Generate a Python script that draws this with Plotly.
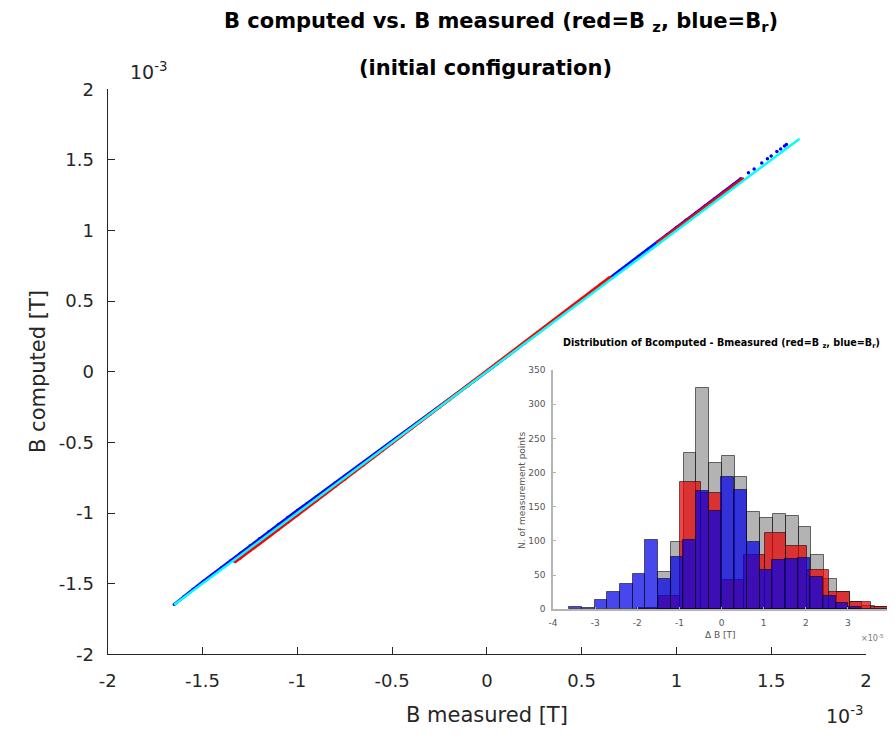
import plotly.graph_objects as go

# the page body has an 8 px margin, so the figure starts at (8, 8) in the window;
# keep the page from overflowing vertically (no scrollbar)
OFF = 8
W, H = 895 - OFF, 736 - 2 * OFF

# ---------------- main scatter data (units of 1e-3 T) ----------------
br_measured = [-1.65, -1.60, -1.55, -1.50, -1.45, -1.40, -1.35, -1.30, -1.25, -1.20, -1.15, -1.10,
               -1.05, -1.00, -0.95, -0.90, -0.85, -0.80, -0.75, -0.70, -0.60, -0.50, -0.40, -0.30,
               -0.20, -0.10, 0.00, 0.10, 0.20, 0.30, 0.40, 0.50, 0.60, 0.70, 0.80, 0.85, 0.90,
               0.95, 1.00, 1.05, 1.10, 1.15, 1.20, 1.25, 1.30, 1.34]
br_computed = [-1.648, -1.592, -1.540, -1.488, -1.437, -1.386, -1.334, -1.283, -1.232, -1.180, -1.130, -1.080,
               -1.030, -0.982, -0.933, -0.884, -0.836, -0.787, -0.738, -0.690, -0.592, -0.493, -0.394, -0.296,
               -0.198, -0.099, 0.002, 0.103, 0.204, 0.306, 0.408, 0.510, 0.613, 0.716, 0.818, 0.869, 0.920,
               0.972, 1.023, 1.074, 1.125, 1.176, 1.226, 1.276, 1.327, 1.368]
br_tail_measured = [1.38, 1.41, 1.45, 1.48, 1.50, 1.53, 1.55, 1.57, 1.58]
br_tail_computed = [1.409, 1.436, 1.478, 1.508, 1.528, 1.560, 1.578, 1.598, 1.610]

bz_measured = [-1.33, -1.30, -1.25, -1.20, -1.15, -1.10, -1.05, -1.00, -0.95, -0.90, -0.85, -0.80,
               -0.75, -0.70, -0.65, -0.60, -0.55, -0.50, -0.45, -0.40, -0.35, -0.30, -0.25, -0.20,
               -0.15, -0.10, -0.05, 0.00, 0.05, 0.10, 0.15, 0.20, 0.25, 0.30, 0.35, 0.40, 0.45,
               0.50, 0.55, 0.60, 0.65, None, 0.90, 0.95, 1.00, 1.05, 1.10, 1.15, 1.20, 1.25, 1.30, 1.35]
bz_computed = [-1.345, -1.318, -1.266, -1.217, -1.166, -1.117, -1.066, -1.016, -0.964, -0.913, -0.863, -0.812,
               -0.761, -0.710, -0.659, -0.608, -0.557, -0.506, -0.455, -0.404, -0.353, -0.302, -0.251, -0.200,
               -0.149, -0.099, -0.048, 0.003, 0.054, 0.105, 0.157, 0.208, 0.260, 0.312, 0.364, 0.415, 0.466,
               0.518, 0.569, 0.620, 0.668, None, 0.912, 0.962, 1.013, 1.063, 1.114, 1.164, 1.215, 1.266, 1.316, 1.366]

ref_line = [-1.65, 1.65]

main_ticks = [-2, -1.5, -1, -0.5, 0, 0.5, 1, 1.5, 2]
main_ticktext = ["-2", "-1.5", "-1", "-0.5", "0", "0.5", "1", "1.5", "2"]

# ---------------- inset histogram data (Delta B in units of 1e-5 T) ----------------
gray_first_edge, gray_bin_width = -1.505, 0.303
gray_counts = [55, 98, 228, 323, 214, 224, 193, 142, 133, 140, 136, 121, 80, 44, 26, 11, 5, 3]
red_first_edge, red_bin_width = -2.0, 0.505
red_counts = [2, 19, 186, 170, 43, 80, 112, 93, 58, 26, 11, 4]
blue_first_edge, blue_bin_width = -3.613, 0.301
blue_counts = [3, 2, 13, 26, 37, 52, 101, 45, 77, 102, 173, 144, 194, 174, 98, 58, 72, 74, 75, 47, 19, 9, 4]

inset_xticks = [-4, -3, -2, -1, 0, 1, 2, 3, 4]
inset_xticktext = ["-4", "-3", "-2", "-1", "0", "1", "2", "3", "4"]
inset_yticks = [0, 50, 100, 150, 200, 250, 300, 350]


def centers(first, width, counts):
    return [first + (k + 0.5) * width for k in range(len(counts))]


FONT = "DejaVu Sans, Liberation Sans, Arial"
AX = "#262626"

fig = go.Figure()

# main scatter
fig.add_trace(go.Scatter(x=br_measured, y=br_computed, mode="lines+markers",
                         line=dict(color="#0000ff", width=3), marker=dict(color="#0000ff", size=3),
                         showlegend=False, xaxis="x", yaxis="y"))
fig.add_trace(go.Scatter(x=br_tail_measured, y=br_tail_computed, mode="markers",
                         marker=dict(color="#0000ff", size=3.5), showlegend=False, xaxis="x", yaxis="y"))
fig.add_trace(go.Scatter(x=bz_measured, y=bz_computed, mode="lines+markers", connectgaps=False,
                         line=dict(color="#ff0000", width=3.5), marker=dict(color="#ff0000", size=3),
                         showlegend=False, xaxis="x", yaxis="y"))
fig.add_trace(go.Scatter(x=ref_line, y=ref_line, mode="lines",
                         line=dict(color="#00ffff", width=2.5), showlegend=False, xaxis="x", yaxis="y"))

# inset histogram
edge = dict(color="rgba(0,0,0,0.55)", width=1)
fig.add_trace(go.Bar(x=centers(gray_first_edge, gray_bin_width, gray_counts), y=gray_counts,
                     width=gray_bin_width, marker=dict(color="rgba(128,128,128,0.6)", line=edge),
                     showlegend=False, xaxis="x2", yaxis="y2"))
fig.add_trace(go.Bar(x=centers(red_first_edge, red_bin_width, red_counts), y=red_counts,
                     width=red_bin_width, marker=dict(color="rgba(230,0,0,0.72)", line=edge),
                     showlegend=False, xaxis="x2", yaxis="y2"))
fig.add_trace(go.Bar(x=centers(blue_first_edge, blue_bin_width, blue_counts), y=blue_counts,
                     width=blue_bin_width, marker=dict(color="rgba(0,0,230,0.72)", line=edge),
                     showlegend=False, xaxis="x2", yaxis="y2"))


def px_x(p):
    return (p - OFF) / W


def px_y(p):
    return (OFF + H - p) / H


main_axis = dict(showline=True, linecolor=AX, linewidth=1.3, ticks="inside", ticklen=7,
                 tickcolor=AX, tickwidth=1.3, showgrid=False, zeroline=False, mirror=False,
                 automargin=False, tickfont=dict(family=FONT, size=18, color=AX))
inset_axis = dict(showline=True, linecolor="#b4b4b4", linewidth=1.5, ticks="inside", ticklen=3,
                  tickcolor="#b4b4b4", showgrid=False, zeroline=False, mirror=False,
                  automargin=False, ticklabeloverflow="allow",
                  tickfont=dict(family=FONT, size=9, color="#555555"))

fig.update_layout(
    width=W, height=H, autosize=False,
    margin=dict(l=0, r=0, t=0, b=0, autoexpand=False),
    paper_bgcolor="white", plot_bgcolor="white",
    barmode="overlay", bargap=0,
    xaxis=dict(domain=[px_x(107.7), px_x(866)], range=[-2, 2], tickvals=main_ticks,
               ticktext=main_ticktext, ticklabelstandoff=10, anchor="y", **main_axis),
    yaxis=dict(domain=[px_y(654.3), px_y(89.3)], range=[-2, 2], tickvals=main_ticks,
               ticktext=main_ticktext, ticklabelstandoff=9, anchor="x", **main_axis),
    xaxis2=dict(domain=[px_x(553), px_x(890)], range=[-4, 4], tickvals=inset_xticks,
                ticktext=inset_xticktext, ticklabelstandoff=4, anchor="y2", **inset_axis),
    yaxis2=dict(domain=[px_y(609.3), px_y(370)], range=[0, 350], tickvals=inset_yticks,
                ticklabelstandoff=4, anchor="x2", **inset_axis),
)

ann = []


def add_text(text, x, y, size, color="black", bold=False, angle=0, xanchor="center", yanchor="middle"):
    ann.append(dict(text=("<b>%s</b>" % text) if bold else text, x=px_x(x), y=px_y(y),
                    xref="paper", yref="paper", showarrow=False, textangle=angle,
                    xanchor=xanchor, yanchor=yanchor,
                    font=dict(family=FONT, size=size, color=color)))


add_text("B computed vs. B measured (red=B <sub>z</sub>, blue=B<sub>r</sub>)", 501, 22, 21, bold=True)
add_text("(initial configuration)", 485, 68, 21, bold=True)
add_text("10<sup>-3</sup>", 148, 71, 19, color=AX)
add_text("10<sup>-3</sup>", 844, 715, 19, color=AX)
add_text("B measured [T]", 487, 715, 21, color=AX)
add_text("B computed [T]", 38, 372, 21, color=AX, angle=-90)
add_text("Distribution of Bcomputed - Bmeasured (red=B <sub>z</sub>, blue=B<sub>r</sub>)", 721.7, 343, 9.6, bold=True)
add_text("N. of measurement points", 522, 490, 9, color="#555555", angle=-90)
add_text("Δ B [T]", 720, 635, 9, color="#555555")
add_text("×10<sup>-5</sup>", 886, 638, 8, color="#777777", xanchor="right")

fig.update_layout(annotations=ann)

fig.write_html("out.html")
